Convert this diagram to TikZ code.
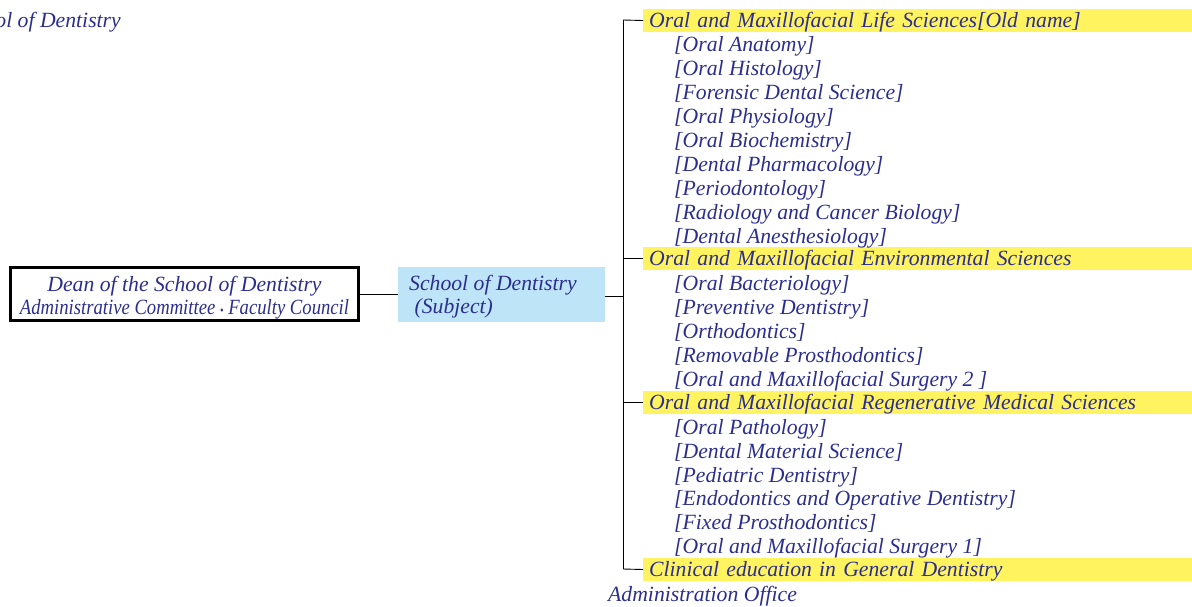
\documentclass[tikz,border=0pt]{standalone}
\usepackage{fontspec}
\usepackage{graphicx}
\setmainfont{Liberation Serif}
\definecolor{txtblue}{RGB}{43,46,143}
\definecolor{baryellow}{RGB}{255,243,96}
\definecolor{boxblue}{RGB}{190,228,248}
\begin{document}
\begin{tikzpicture}[x=1pt,y=-1pt,
  every node/.style={font=\fontsize{21.7}{23}\selectfont\itshape, text=txtblue},
  lbl/.style={anchor=base west, inner sep=0pt},
  hdr/.style={anchor=west, fill=baryellow, minimum width=549pt, text width=537pt, align=left,
     inner xsep=6pt, inner ysep=1.5pt, text height=17pt, text depth=3pt},
  conn/.style={draw=black, line width=0.9pt}]
\useasboundingbox (0,0) rectangle (1192,606);
% clipped title
\node[anchor=base east, inner sep=0pt] (title) at (121,27) {School of Dentistry};
% dean box
\node[draw=black, line width=3pt, minimum width=348pt, minimum height=53pt, inner sep=0pt]
  (dean) at (184.5,294) {};
\node[align=center, inner sep=0pt, anchor=base] (deantxt) at (184.5,314) {Dean of the School of Dentistry\\[0pt]
  \scalebox{0.86}[1]{Administrative Committee {\fontsize{12}{12}\selectfont\upshape •} Faculty Council}};
% school box
\node[fill=boxblue, minimum width=207pt, minimum height=55pt, inner sep=0pt]
  (school) at (501.5,294.5) {};
\node[align=left, inner sep=0pt, anchor=base west] (schooltxt) at (409,313) {School of Dentistry\\\ (Subject)};
\coordinate (trunk) at (623,296);
\coordinate (ttop) at (623,20);
\coordinate (tbot) at (623,569);
\draw[conn] (dean.east) -- (school.west |- dean.east);
\draw[conn] (school.east |- trunk) -- (trunk);
\draw[conn] (ttop) -- (tbot);
% headers
\node[hdr] (h1) at (643,20.5) {Oral and Maxillofacial Life Sciences[Old name]};
\node[hdr] (h2) at (643,258.5) {Oral and Maxillofacial Environmental Sciences};
\node[hdr] (h3) at (643,402.5) {Oral and Maxillofacial Regenerative Medical Sciences};
\node[hdr] (h4) at (643,569.5) {Clinical education in General Dentistry};
\draw[conn] (ttop) -- (h1.west);
\draw[conn] (623,258.5) -- (h2.west);
\draw[conn] (623,402.5) -- (h3.west);
\draw[conn] (tbot) -- (h4.west);
% items group 1
\node[lbl] (a1) at (674,51) {[Oral Anatomy]};
\node[lbl] (a2) at (674,75) {[Oral Histology]};
\node[lbl] (a3) at (674,99) {[Forensic Dental Science]};
\node[lbl] (a4) at (674,123) {[Oral Physiology]};
\node[lbl] (a5) at (674,147) {[Oral Biochemistry]};
\node[lbl] (a6) at (674,171) {[Dental Pharmacology]};
\node[lbl] (a7) at (674,195) {[Periodontology]};
\node[lbl] (a8) at (674,219) {[Radiology and Cancer Biology]};
\node[lbl] (a9) at (674,243) {[Dental Anesthesiology]};
% items group 2
\node[lbl] (b1) at (674,290) {[Oral Bacteriology]};
\node[lbl] (b2) at (674,314) {[Preventive Dentistry]};
\node[lbl] (b3) at (674,338) {[Orthodontics]};
\node[lbl] (b4) at (674,362) {[Removable Prosthodontics]};
\node[lbl] (b5) at (674,386) {[Oral and Maxillofacial Surgery 2 ]};
% items group 3
\node[lbl] (c1) at (674,434) {[Oral Pathology]};
\node[lbl] (c2) at (674,458) {[Dental Material Science]};
\node[lbl] (c3) at (674,482) {[Pediatric Dentistry]};
\node[lbl] (c4) at (674,505) {[Endodontics and Operative Dentistry]};
\node[lbl] (c5) at (674,529) {[Fixed Prosthodontics]};
\node[lbl] (c6) at (674,553) {[Oral and Maxillofacial Surgery 1]};
% admin
\node[lbl] (adm) at (608,601) {Administration Office};
\end{tikzpicture}
\end{document}
